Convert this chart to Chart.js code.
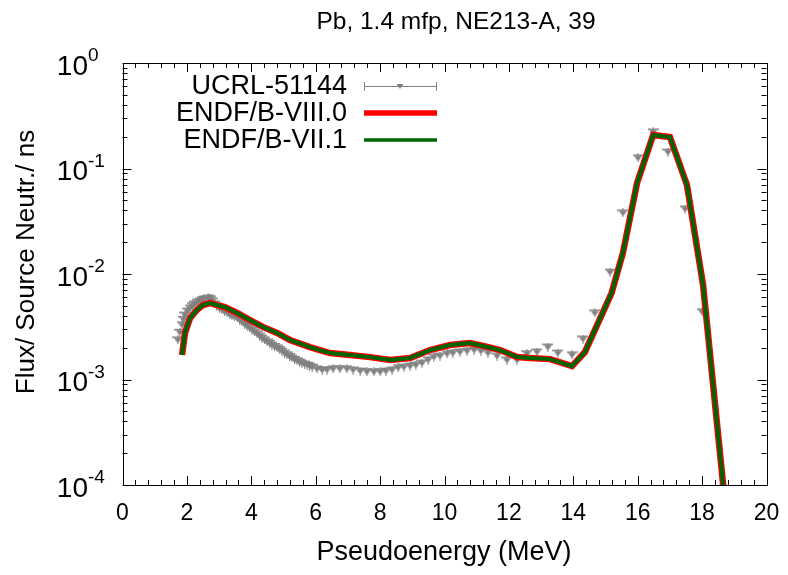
<!DOCTYPE html>
<html><head><meta charset="utf-8">
<script src="https://cdn.jsdelivr.net/npm/chart.js@4/dist/chart.umd.min.js"></script>
<style>html,body{margin:0;padding:0;background:#fff}#wrap{width:788px;height:575px}</style>
</head><body><div id="wrap"><canvas id="c" width="788" height="575"></canvas></div>
<script>
const titleText = "Pb, 1.4 mfp, NE213-A, 39";
const xTitle = "Pseudoenergy (MeV)";
const yTitle = "Flux/ Source Neutr./ ns";
const xTickLabels = [0, 2, 4, 6, 8, 10, 12, 14, 16, 18, 20];
const yTickExponents = [0, -1, -2, -3, -4];
const seriesNames = ["UCRL-51144", "ENDF/B-VIII.0", "ENDF/B-VII.1"];

const expEnergy = [1.72,1.78,1.85,1.90,1.94,2.02,2.10,2.18,2.25,2.33,2.41,2.48,2.56,2.66,2.72,2.78,2.86,2.93,3.01,3.09,3.17,3.25,3.33,3.40,3.48,3.56,3.64,3.71,3.79,3.87,3.95,4.02,4.10,4.18,4.26,4.33,4.41,4.49,4.57,4.64,4.72,4.80,4.88,4.95,5.03,5.11,5.19,5.26,5.34,5.42,5.50,5.57,5.65,5.73,5.81,5.89,6.04,6.20,6.35,6.54,6.75,6.97,7.16,7.38,7.59,7.81,8.00,8.18,8.37,8.56,8.74,8.93,9.11,9.30,9.49,9.67,9.86,10.08,10.26,10.48,10.70,10.92,11.13,11.35,11.63,11.94,12.25,12.56,12.87,13.21,13.52,13.96,14.30,14.67,15.14,15.54,16.01,16.48,16.94,17.47,18.00];
const expFlux = [2.37e-3,2.80e-3,3.29e-3,3.70e-3,4.08e-3,4.45e-3,4.76e-3,5.00e-3,5.20e-3,5.40e-3,5.55e-3,5.70e-3,5.79e-3,5.93e-3,5.80e-3,5.55e-3,5.20e-3,4.97e-3,4.75e-3,4.56e-3,4.40e-3,4.27e-3,4.12e-3,4.00e-3,3.92e-3,3.83e-3,3.65e-3,3.51e-3,3.35e-3,3.21e-3,3.08e-3,2.94e-3,2.82e-3,2.70e-3,2.58e-3,2.47e-3,2.37e-3,2.27e-3,2.20e-3,2.12e-3,2.05e-3,1.99e-3,1.92e-3,1.86e-3,1.78e-3,1.71e-3,1.65e-3,1.60e-3,1.55e-3,1.50e-3,1.46e-3,1.43e-3,1.40e-3,1.37e-3,1.34e-3,1.31e-3,1.26e-3,1.23e-3,1.23e-3,1.26e-3,1.26e-3,1.26e-3,1.23e-3,1.20e-3,1.18e-3,1.18e-3,1.18e-3,1.20e-3,1.23e-3,1.29e-3,1.31e-3,1.34e-3,1.37e-3,1.43e-3,1.53e-3,1.63e-3,1.67e-3,1.75e-3,1.78e-3,1.82e-3,1.86e-3,1.90e-3,1.86e-3,1.78e-3,1.67e-3,1.53e-3,1.53e-3,1.75e-3,1.82e-3,2.03e-3,1.78e-3,1.71e-3,2.42e-3,4.27e-3,1.04e-2,3.79e-2,0.126,0.222,0.143,4.13e-2,4.37e-3];

const calcEnergy = [1.85,1.94,2.10,2.31,2.50,2.72,2.93,3.18,3.56,3.96,4.36,4.80,5.20,5.82,6.44,7.06,7.69,8.31,8.93,9.55,10.17,10.79,11.20,11.73,12.25,12.66,13.28,13.96,14.36,15.19,15.54,15.98,16.48,17.00,17.53,18.03,18.90];
const endf80Flux = [1.71e-3,2.76e-3,3.83e-3,4.56e-3,5.08e-3,5.31e-3,5.08e-3,4.86e-3,4.27e-3,3.66e-3,3.15e-3,2.76e-3,2.37e-3,2.03e-3,1.78e-3,1.71e-3,1.63e-3,1.53e-3,1.60e-3,1.90e-3,2.12e-3,2.22e-3,2.08e-3,1.90e-3,1.63e-3,1.60e-3,1.56e-3,1.34e-3,1.82e-3,6.61e-3,1.58e-2,7.29e-2,0.208,0.199,6.98e-2,7.87e-3,1.8e-5];
const endf71Flux = [1.71e-3,2.76e-3,3.83e-3,4.56e-3,5.08e-3,5.31e-3,5.08e-3,4.86e-3,4.27e-3,3.66e-3,3.15e-3,2.76e-3,2.37e-3,2.03e-3,1.78e-3,1.71e-3,1.63e-3,1.53e-3,1.60e-3,1.90e-3,2.12e-3,2.22e-3,2.08e-3,1.90e-3,1.63e-3,1.60e-3,1.56e-3,1.34e-3,1.82e-3,6.61e-3,1.58e-2,7.29e-2,0.208,0.199,6.98e-2,7.87e-3,1.8e-5];

const FONT = '"Liberation Sans", Arial, Helvetica, sans-serif';
const GRAY = 'rgb(128,128,128)';
const RED = 'rgb(255,0,0)';
const GREEN = 'rgb(0,100,0)';

const toPts = (xs, ys) => xs.map((x, i) => ({x: x, y: ys[i]}));

// marker: down triangle with small cap bar on top (errorbar look)
function makeMarker() {
  const c = document.createElement('canvas');
  c.width = 11; c.height = 9;
  const g = c.getContext('2d');
  g.fillStyle = GRAY;
  g.fillRect(0, 1, 11, 1.5);
  g.beginPath();
  g.moveTo(1.5, 2.5); g.lineTo(9.5, 2.5); g.lineTo(5.5, 8); g.closePath(); g.fill();
  g.fillRect(5, 0, 1, 9);
  return c;
}
const marker = makeMarker();

const decor = {
  id: 'decor',
  afterDraw(chart) {
    const ctx = chart.ctx;
    const a = chart.chartArea;
    const xs = chart.scales.x, ys = chart.scales.y;
    ctx.save();
    ctx.strokeStyle = '#000';
    ctx.lineWidth = 1;
    ctx.strokeRect(Math.round(a.left) + 0.5, Math.round(a.top) + 0.5, Math.round(a.right - a.left), Math.round(a.bottom - a.top));
    ctx.beginPath();
    for (let i = 0; i <= 50; i++) {
      const v = i * 0.4;
      const px = Math.round(xs.getPixelForValue(v)) + 0.5;
      const len = (i % 5 === 0) ? 9 : 5;
      ctx.moveTo(px, a.bottom); ctx.lineTo(px, a.bottom - len);
      ctx.moveTo(px, a.top); ctx.lineTo(px, a.top + len);
    }
    for (let e = -4; e <= 0; e++) {
      for (let m = 1; m <= 9; m++) {
        const v = m * Math.pow(10, e);
        if (v > 1.0000001) continue;
        const py = Math.round(ys.getPixelForValue(v)) + 0.5;
        const len = (m === 1) ? 9 : 5;
        ctx.moveTo(a.left, py); ctx.lineTo(a.left + len, py);
        ctx.moveTo(a.right, py); ctx.lineTo(a.right - len, py);
      }
    }
    ctx.stroke();
    ctx.fillStyle = '#000';
    ctx.font = '23px ' + FONT;
    ctx.textAlign = 'center';
    ctx.textBaseline = 'middle';
    xTickLabels.forEach(v => {
      ctx.fillText(String(v), xs.getPixelForValue(v), a.bottom + 29);
    });
    yTickExponents.forEach(e => {
      const py = ys.getPixelForValue(Math.pow(10, e));
      ctx.font = '28px ' + FONT;
      ctx.textAlign = 'right';
      ctx.textBaseline = 'middle';
      ctx.fillText('10', 88, py + 4);
      ctx.font = '19px ' + FONT;
      ctx.textAlign = 'left';
      ctx.fillText(String(e), 88, py - 7);
    });
    ctx.font = '24.5px ' + FONT;
    ctx.textAlign = 'center';
    ctx.textBaseline = 'middle';
    ctx.fillText(titleText, 456, 22);
    ctx.font = '27px ' + FONT;
    ctx.fillText(xTitle, 444, 553);
    ctx.save();
    ctx.translate(27, 262);
    ctx.rotate(-Math.PI / 2);
    ctx.font = '26px ' + FONT;
    ctx.fillText(yTitle, 0, 0);
    ctx.restore();
    // legend
    const rows = [86, 113, 140];
    ctx.font = '27px ' + FONT;
    ctx.textAlign = 'right';
    ctx.textBaseline = 'middle';
    seriesNames.forEach((n, i) => ctx.fillText(n, 347, rows[i] + 1));
    const x0 = 364, x1 = 437;
    ctx.strokeStyle = GRAY; ctx.lineWidth = 1;
    ctx.beginPath();
    ctx.moveTo(x0, rows[0] + 0.5); ctx.lineTo(x1, rows[0] + 0.5);
    ctx.moveTo(x0 + 0.5, rows[0] - 4); ctx.lineTo(x0 + 0.5, rows[0] + 5);
    ctx.moveTo(x1 - 0.5, rows[0] - 4); ctx.lineTo(x1 - 0.5, rows[0] + 5);
    ctx.stroke();
    ctx.fillStyle = GRAY;
    ctx.beginPath();
    ctx.moveTo(400 - 3.5, rows[0] - 2); ctx.lineTo(400 + 3.5, rows[0] - 2); ctx.lineTo(400, rows[0] + 3); ctx.closePath(); ctx.fill();
    ctx.lineCap = 'butt';
    ctx.strokeStyle = RED; ctx.lineWidth = 5.5;
    ctx.beginPath(); ctx.moveTo(x0, rows[1]); ctx.lineTo(x1, rows[1]); ctx.stroke();
    ctx.strokeStyle = GREEN; ctx.lineWidth = 3.5;
    ctx.beginPath(); ctx.moveTo(x0, rows[2]); ctx.lineTo(x1, rows[2]); ctx.stroke();
    ctx.restore();
  }
};

new Chart(document.getElementById('c'), {
  type: 'scatter',
  data: {
    datasets: [
      {
        label: seriesNames[0],
        data: toPts(expEnergy, expFlux),
        showLine: false,
        pointStyle: marker,
        radius: 5,
        backgroundColor: GRAY,
        borderColor: GRAY,
        borderWidth: 0,
        order: 3
      },
      {
        label: seriesNames[1],
        data: toPts(calcEnergy, endf80Flux),
        showLine: true,
        borderColor: RED,
        borderWidth: 6.5,
        pointRadius: 0,
        tension: 0,
        clip: 0,
        order: 2
      },
      {
        label: seriesNames[2],
        data: toPts(calcEnergy, endf71Flux),
        showLine: true,
        borderColor: GREEN,
        borderWidth: 4,
        pointRadius: 0,
        tension: 0,
        clip: 0,
        order: 1
      }
    ]
  },
  options: {
    responsive: false,
    devicePixelRatio: 1,
    animation: false,
    layout: { padding: { left: 122.5, right: 21.5, top: 63, bottom: 90 } },
    plugins: { legend: { display: false }, tooltip: { enabled: false }, title: { display: false } },
    scales: {
      x: {
        type: 'linear', min: 0, max: 20,
        grid: { display: false, drawTicks: false },
        border: { display: false },
        ticks: { display: false },
        afterFit(s) { s.height = 0; }
      },
      y: {
        type: 'logarithmic', min: 1e-4, max: 1,
        grid: { display: false, drawTicks: false },
        border: { display: false },
        ticks: { display: false },
        afterFit(s) { s.width = 0; }
      }
    }
  },
  plugins: [decor]
});
</script>
</body></html>
